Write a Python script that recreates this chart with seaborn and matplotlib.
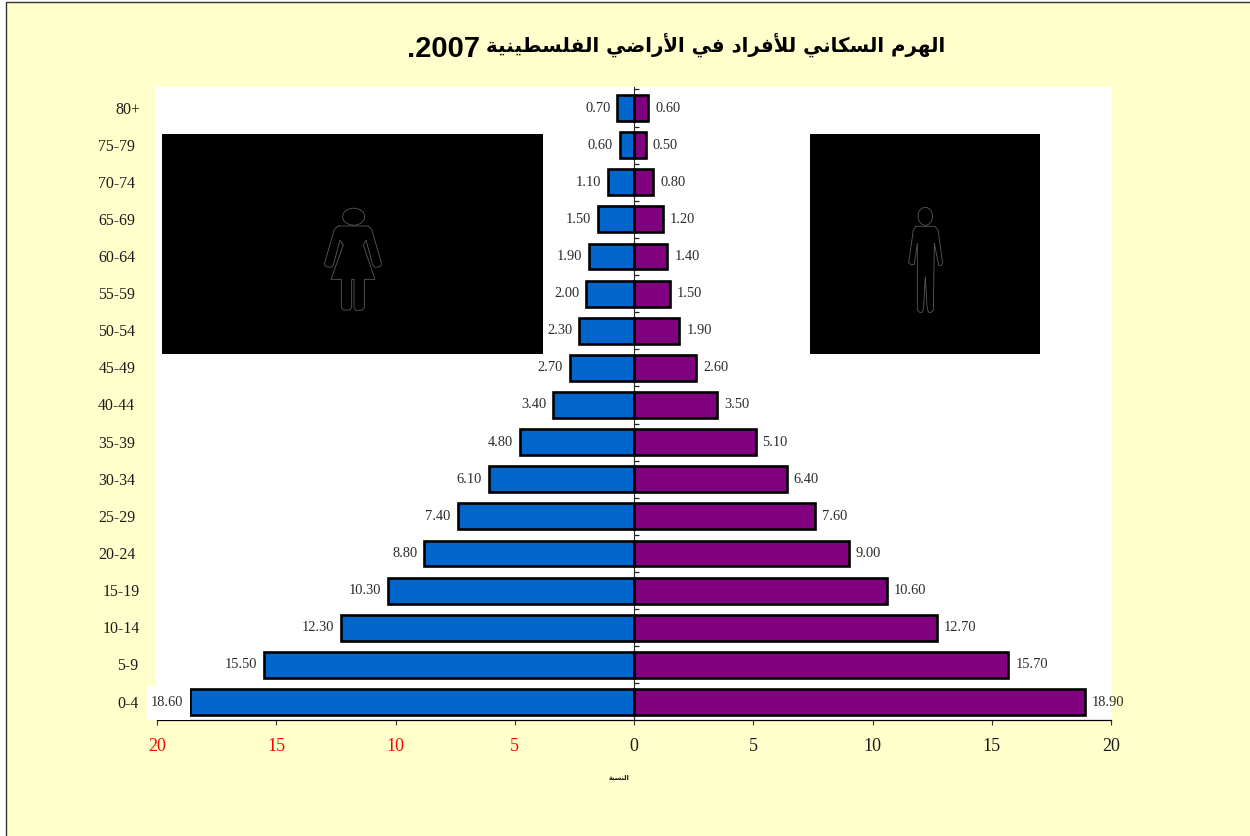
#!/usr/bin/env python3
"""Population pyramid for the Palestinian Territory, 2007."""

import matplotlib.pyplot as plt
from matplotlib.patches import Ellipse, Rectangle
from matplotlib.transforms import Affine2D
import numpy as np
import pandas as pd
import seaborn as sns

W, H = 1250, 836
DPI = 100
BOTTOM = 720
BAND = 37.125

AGES = ["80+", "75-79", "70-74", "65-69", "60-64", "55-59", "50-54", "45-49", "40-44",
        "35-39", "30-34", "25-29", "20-24", "15-19", "10-14", "5-9", "0-4"]
FEMALE = [0.7, 0.6, 1.1, 1.5, 1.9, 2.0, 2.3, 2.7, 3.4, 4.8, 6.1, 7.4, 8.8, 10.3, 12.3, 15.5, 18.6]
MALE = [0.6, 0.5, 0.8, 1.2, 1.4, 1.5, 1.9, 2.6, 3.5, 5.1, 6.4, 7.6, 9.0, 10.6, 12.7, 15.7, 18.9]
XTICKS = [-20, -15, -10, -5, 0, 5, 10, 15, 20]
XTICK_LABELS = ["20", "15", "10", "5", "0", "5", "10", "15", "20"]
TITLE = "الهرم السكاني للأفراد في الأراضي الفلسطينية"
TITLE_YEAR = ".2007"
XLABEL = "النسبة"

COLOR = {
    "paper": "#FFFFCC",
    "female": "#0066CC",
    "male": "#800080",
    "ink": "#1a1a1a",
    "outline": "#5a5a5a",
}

# isolated, final, initial, medial
FORMS = {
    "ا": "\uFE8D\uFE8E", "أ": "\uFE83\uFE84", "د": "\uFEA9\uFEAA", "ر": "\uFEAD\uFEAE",
    "ة": "\uFE93\uFE94",
    "ب": "\uFE8F\uFE90\uFE91\uFE92", "س": "\uFEB1\uFEB2\uFEB3\uFEB4",
    "ض": "\uFEBD\uFEBE\uFEBF\uFEC0", "ط": "\uFEC1\uFEC2\uFEC3\uFEC4",
    "ف": "\uFED1\uFED2\uFED3\uFED4", "ك": "\uFED9\uFEDA\uFEDB\uFEDC",
    "ل": "\uFEDD\uFEDE\uFEDF\uFEE0", "م": "\uFEE1\uFEE2\uFEE3\uFEE4",
    "ن": "\uFEE5\uFEE6\uFEE7\uFEE8", "ه": "\uFEE9\uFEEA\uFEEB\uFEEC",
    "ي": "\uFEF1\uFEF2\uFEF3\uFEF4",
}
LAM_ALEF_HAMZA = "\uFEF7\uFEF8"


def shape_word(word: str) -> str:
    """Contextual forms for one Arabic word, returned in visual (left to right) order."""
    out = []
    joined = False
    i = 0
    while i < len(word):
        ch = word[i]
        if word[i:i + 2] == "لأ":
            out.append(LAM_ALEF_HAMZA[1 if joined else 0])
            joined = False
            i += 2
            continue
        forms = FORMS[ch]
        next_joins = i + 1 < len(word)
        if len(forms) == 2:
            out.append(forms[1 if joined else 0])
            joined = False
        else:
            if joined:
                out.append(forms[3 if next_joins else 1])
            else:
                out.append(forms[2 if next_joins else 0])
            joined = next_joins
        i += 1
    return "".join(reversed(out))


def visual_arabic(text: str) -> str:
    # matplotlib has no shaping or bidi, so lay the line out by hand
    return " ".join(shape_word(w) for w in reversed(text.split(" ")))


def px_axes(fig, x0, x1, y0, y1, **kwargs):
    return fig.add_axes([x0 / W, 1 - y1 / H, (x1 - x0) / W, (y1 - y0) / H], **kwargs)


def draw_figure_box(fig, x0, x1, y0, y1, outline, head):
    box = px_axes(fig, x0, x1, y0, y1, facecolor="black", zorder=5)
    box.set_xlim(x0, x1)
    box.set_ylim(y1, y0)
    box.axis("off")
    box.add_patch(Rectangle((x0, y0), x1 - x0, y1 - y0, color="black"))
    xs, ys = zip(*outline)
    box.plot(xs, ys, color=COLOR["outline"], lw=0.6)
    box.add_patch(Ellipse(head[:2], head[2], head[3], fc="none", ec=COLOR["outline"], lw=0.6))


def main():
    sns.set_style("white")
    plt.rcParams["font.family"] = ["Liberation Serif", "DejaVu Sans"]

    fig = plt.figure(figsize=(W / DPI, H / DPI), dpi=DPI, facecolor="white")
    fig.add_artist(Rectangle((6 / W, -0.1), 1.2, 1.1 - 1.5 / H, transform=fig.transFigure,
                             fc=COLOR["paper"], ec="#333333", lw=1.0, zorder=-1))

    ax = px_axes(fig, 155, 1112, 87, BOTTOM, facecolor="white")
    df = pd.DataFrame({
        "age": AGES * 2,
        "sex": ["female"] * len(AGES) + ["male"] * len(AGES),
        "share": [-v for v in FEMALE] + MALE,
    })
    sns.barplot(data=df, y="age", x="share", hue="sex", order=AGES,
                hue_order=["female", "male"], orient="h", dodge=False, width=0.7,
                palette={"female": COLOR["female"], "male": COLOR["male"]}, saturation=1,
                edgecolor="black", linewidth=1.9, legend=False, ax=ax)

    ax.set_xlim((155 - 634) / 23.85, (1112 - 634) / 23.85)
    ax.set_ylim((BOTTOM - 108) / BAND, (87 - 108) / BAND)
    ax.set_ylabel("")

    for spine in ["top", "left", "right"]:
        ax.spines[spine].set_visible(False)
    ax.spines["bottom"].set_bounds(-20, 20)
    ax.spines["bottom"].set_linewidth(0.9)
    ax.spines["bottom"].set_color("black")

    ax.set_xticks(XTICKS, XTICK_LABELS)
    ax.tick_params(axis="x", bottom=True, length=3.6, width=0.8, color="#333333", pad=9.5,
                   labelsize=13, labelcolor=COLOR["ink"])
    for label, tick in zip(ax.get_xticklabels(), XTICKS):
        if tick < 0:
            label.set_color("#FF0000")

    ax.tick_params(axis="y", left=False, pad=10.8, labelsize=11.4, labelcolor=COLOR["ink"])
    age_shift = {"80+": 5, "15-19": 5, "10-14": 5, "5-9": 3, "0-4": 3}
    for label in ax.get_yticklabels():
        dx = age_shift.get(label.get_text(), 0)
        label.set_transform(label.get_transform() + Affine2D().translate(dx, 0.5))

    # centre axis with its ticks between the age groups
    centre = ax.secondary_yaxis((634 - 155) / (1112 - 155))
    centre.set_yticks(np.arange(len(AGES) + 1) - 0.5, labels=[])
    centre.tick_params(axis="y", length=3.6, width=0.9, color="#222222")
    centre.spines["left"].set_linewidth(1.0)
    centre.spines["left"].set_color("black")

    for container, values in zip(ax.containers, [FEMALE, MALE]):
        texts = ax.bar_label(container, labels=[f"{v:.2f}" for v in values], padding=5,
                             fontsize=10.4, color="#2a2a2a")
        for t in texts:
            t.set_clip_on(False)
    # the largest label spills over the plot area on a white backing
    ax.add_patch(Rectangle((-20.4, len(AGES) - 1.43), 20.4 - 18.6, 0.92, fc="white", ec="none",
                           clip_on=False, zorder=2.6))
    for t in ax.texts:
        t.set_zorder(3)

    ax.set_xlabel(visual_arabic(XLABEL), fontsize=4.8, fontweight="bold", color=COLOR["ink"],
                  family=["DejaVu Sans"])
    ax.xaxis.set_label_coords((619 - 155) / (1112 - 155), (BOTTOM - 777) / (BOTTOM - 87))
    ax.xaxis.label.set_va("center")

    fig.text(945 / W, 1 - 52 / H, visual_arabic(TITLE), ha="right", va="baseline", fontsize=14.2,
             fontweight="bold", color="black", family=["DejaVu Sans"])
    fig.text(480 / W, 1 - 57 / H, TITLE_YEAR, ha="right", va="baseline", fontsize=21,
             fontweight="bold", color="black", family=["Liberation Sans"])

    woman = [(115, 108), (205, 108), (215, 118), (245, 222), (240, 230), (225, 232), (218, 225),
             (198, 150), (190, 165), (225, 268), (193, 268), (193, 352), (188, 360), (168, 362),
             (162, 352), (162, 268), (155, 268), (155, 352), (150, 360), (130, 360), (124, 352),
             (124, 268), (93, 268), (130, 165), (120, 150), (100, 225), (92, 232), (78, 230),
             (73, 222), (103, 118), (115, 108)]
    man = [(408, 319), (465, 319), (474, 330), (488, 430), (483, 437), (476, 435), (463, 370),
           (460, 570), (452, 578), (445, 576), (441, 560), (436, 470), (431, 560), (428, 576),
           (420, 578), (412, 570), (412, 370), (403, 433), (394, 435), (386, 428), (400, 330),
           (408, 319)]
    draw_figure_box(fig, 162, 543, 134, 354,
                    [(300 + u / 3, 190 + v / 3) for u, v in woman], (353.7, 216.7, 22, 17))
    draw_figure_box(fig, 810, 1040, 134, 354,
                    [(780 + u / 3, 120 + v / 3) for u, v in man], (925.3, 216.3, 14.5, 18))

    fig.savefig("out.png", dpi=DPI)


if __name__ == "__main__":
    main()
